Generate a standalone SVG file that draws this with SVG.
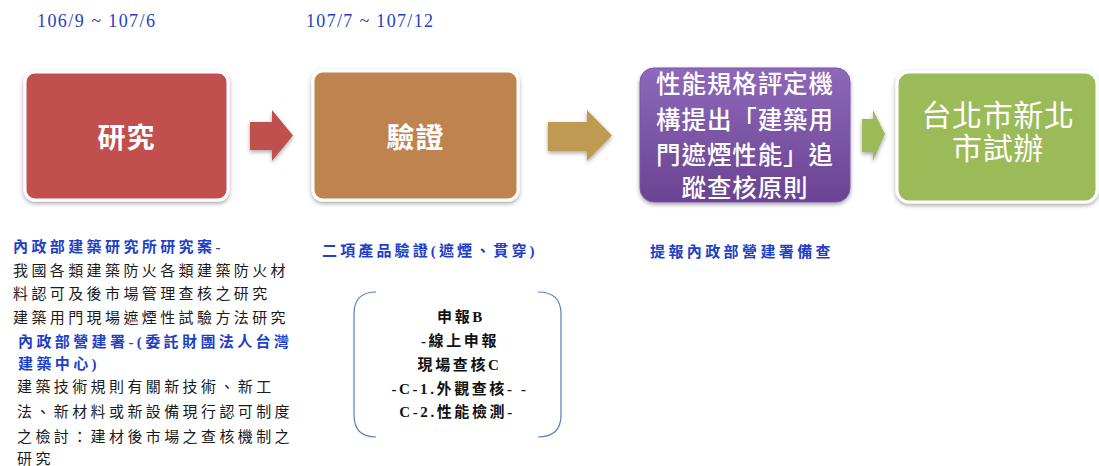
<svg xmlns="http://www.w3.org/2000/svg" width="1099" height="466" viewBox="0 0 1099 466">
<defs>
<filter id="sh" x="-10%" y="-10%" width="120%" height="125%">
<feDropShadow dx="0" dy="2" stdDeviation="2" flood-color="#000" flood-opacity="0.35"/>
</filter>
<linearGradient id="pg" x1="0" y1="0" x2="0" y2="1">
<stop offset="0" stop-color="#8E68BA"/>
<stop offset="1" stop-color="#6A4392"/>
</linearGradient>
<style>
.box{stroke:#fff;stroke-width:3;filter:url(#sh)}
.bt{font-family:"Noto Sans CJK TC",sans-serif;fill:#fff;text-anchor:middle}
.s{font-family:"Liberation Serif","Noto Sans CJK TC",serif;font-size:15px;letter-spacing:3.4px;fill:#1a1a1a}
.b{fill:#1E40C8;font-weight:bold}
.d{font-family:"Liberation Serif","Noto Sans CJK TC",serif;font-size:18px;fill:#1E40C8}
.k{font-family:"Liberation Serif","Noto Sans CJK TC",serif;font-size:15px;font-weight:bold;fill:#111;text-anchor:middle;letter-spacing:2.6px}
</style>
</defs>
<rect width="1099" height="466" fill="#fff"/>

<text class="d" x="37" y="27" textLength="118" lengthAdjust="spacing">106/9 ~ 107/6</text>
<text class="d" x="306" y="27" textLength="127" lengthAdjust="spacing">107/7 ~ 107/12</text>

<g id="node-research">
<rect class="box" x="25" y="72" width="203" height="128" rx="10" fill="#C0504D"/>
<text class="bt" x="126.5" y="148" font-size="28" font-weight="bold" letter-spacing="1">研究</text>
</g>

<g id="node-verify">
<rect class="box" x="313" y="71" width="205" height="129" rx="10" fill="#BF8350"/>
<text class="bt" x="415.5" y="148" font-size="28" font-weight="bold" letter-spacing="1">驗證</text>
</g>

<g id="node-principle">
<rect x="640" y="68" width="210" height="134" rx="14" fill="url(#pg)" filter="url(#sh)" stroke="#7a55a3" stroke-width="1"/>
<g class="bt" font-size="24.5" font-weight="500" letter-spacing="0.9">
<text x="745" y="93">性能規格評定機</text>
<text x="745" y="129">構提出「建築用</text>
<text x="745" y="164">門遮煙性能」追</text>
<text x="745" y="197">蹤查核原則</text>
</g>
</g>

<g id="node-trial">
<rect class="box" x="897" y="72" width="200" height="130" rx="12" fill="#9BBB59"/>
<g class="bt" font-size="30" letter-spacing="0.6">
<text x="998" y="126">台北市新北</text>
<text x="998" y="159">市試辦</text>
</g>
</g>

<g id="connectors">
<polygon points="250,122 272,122 272,110 293,135.5 272,161 272,150 250,150" fill="#C0504D" filter="url(#sh)"/>
<polygon points="548,122 587,122 587,110 612,135.5 587,161 587,151 548,151" fill="#BE9A52" filter="url(#sh)"/>
<polygon points="862,119 873,119 873,110 885,134 873,161 873,152 862,152" fill="#9BBB59" filter="url(#sh)"/>
</g>

<g id="text-research">
<text class="s b" x="13" y="252">內政部建築研究所研究案-</text>
<text class="s" x="13" y="276">我國各類建築防火各類建築防火材</text>
<text class="s" x="13" y="299">料認可及後市場管理查核之研究</text>
<text class="s" x="13" y="323">建築用門現場遮煙性試驗方法研究</text>
<text class="s b" x="18" y="347">內政部營建署-(委託財團法人台灣</text>
<text class="s b" x="18" y="369">建築中心)</text>
<text class="s" x="17" y="392">建築技術規則有關新技術、新工</text>
<text class="s" x="17" y="417">法、新材料或新設備現行認可制度</text>
<text class="s" x="17" y="442">之檢討：建材後市場之查核機制之</text>
<text class="s" x="17" y="464">研究</text>
</g>

<g id="text-verify">
<text class="s b" x="322" y="256" textLength="216" lengthAdjust="spacing">二項產品驗證(遮煙、貫穿)</text>
</g>

<g id="node-steps">
<path d="M376,292 Q354,292 354,314 L354,415 Q354,437 376,437" fill="none" stroke="#4F81BD" stroke-width="1.2"/>
<path d="M538,292 Q561,292 561,314 L561,415 Q561,437 538,437" fill="none" stroke="#4F81BD" stroke-width="1.2"/>
<text class="k" x="461" y="322">申報B</text>
<text class="k" x="460" y="346">-線上申報</text>
<text class="k" x="459.5" y="370">現場查核C</text>
<text class="k" x="460" y="394">-C-1.外觀查核- -</text>
<text class="k" x="457" y="417">C-2.性能檢測-</text>
</g>

<g id="text-report">
<text class="s b" x="650" y="257">提報內政部營建署備查</text>
</g>
</svg>
